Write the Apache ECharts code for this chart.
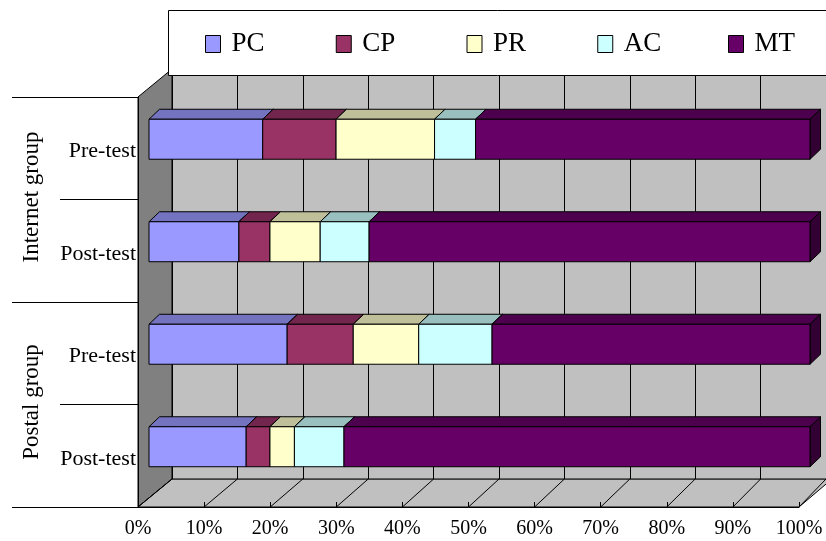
<!DOCTYPE html>
<html>
<head>
<meta charset="utf-8">
<script src="https://cdn.jsdelivr.net/npm/echarts@6/dist/echarts.min.js"></script>
<style>
  html, body { margin: 0; padding: 0; background: #fff; }
  #chart { width: 826px; height: 541px; }
</style>
</head>
<body>
<div id="chart"></div>
<script>
// ---- data ----
const categories = ['Pre-test', 'Post-test', 'Pre-test', 'Post-test'];
const groups = ['Internet group', 'Postal group'];
const seriesNames = ['PC', 'CP', 'PR', 'AC', 'MT'];
const PC = [17.2, 13.6, 20.9, 14.7];
const CP = [11.1, 4.7, 10.0, 3.6];
const PR = [14.9, 7.6, 9.9, 3.7];
const AC = [6.2, 7.4, 11.1, 7.5];
const MT = [50.6, 66.7, 48.1, 70.5];
const tickLabels = ['0%', '10%', '20%', '30%', '40%', '50%', '60%', '70%', '80%', '90%', '100%'];

// ---- styling ----
const FONT = '"Liberation Serif", "Times New Roman", serif';
const frontColors = ['#9999FF', '#993366', '#FFFFCC', '#CCFFFF', '#660066'];
const topColors   = ['#7373BF', '#73264D', '#BFBF99', '#99BFBF', '#4D004D'];
const sideColors  = ['#4C4C80', '#4D1933', '#808066', '#668080', '#330033'];

// front plane of the 3D box and the depth shift to the back wall
const W = 826, H = 541;
const FRONT = { x0: 138, x1: 799, y0: 97, y1: 507 };
const DEPTH = { dx: 34, dy: -28 };
const BACK = { x0: FRONT.x0 + DEPTH.dx, x1: 832, y0: FRONT.y0 + DEPTH.dy, y1: FRONT.y1 + DEPTH.dy };
// bars sit in the middle third of the depth
const BAR_OFF = { dx: 11, dy: -9 };
const BAR_DEPTH = { dx: 10.5, dy: -10 };
const BAR_RATIO = 0.39;

const valueLists = [PC, CP, PR, AC, MT];

function renderBar(si) {
  return function (params, api) {
    const s = api.value(0), e = api.value(1), c = api.value(2);
    const a = api.coord([s, c]);
    const b = api.coord([e, c]);
    const band = api.size([0, 1])[1];
    const h = band * BAR_RATIO;
    const x0 = a[0] + BAR_OFF.dx, x1 = b[0] + BAR_OFF.dx;
    const y0 = a[1] - h / 2 + BAR_OFF.dy, y1 = y0 + h;
    const dx = BAR_DEPTH.dx, dy = BAR_DEPTH.dy;
    const edge = { stroke: '#000', lineWidth: 1, lineJoin: 'round' };
    return {
      type: 'group',
      children: [
        { type: 'polygon', shape: { points: [[x0, y0], [x1, y0], [x1 + dx, y0 + dy], [x0 + dx, y0 + dy]] },
          style: Object.assign({ fill: topColors[si] }, edge) },
        { type: 'polygon', shape: { points: [[x1, y0], [x1 + dx, y0 + dy], [x1 + dx, y1 + dy], [x1, y1]] },
          style: Object.assign({ fill: sideColors[si] }, edge) },
        { type: 'rect', shape: { x: x0, y: y0, width: x1 - x0, height: h },
          style: Object.assign({ fill: frontColors[si] }, edge) }
      ]
    };
  };
}

// stacked extents for each segment
const cum = categories.map(() => 0);
const series = seriesNames.map((name, si) => {
  const data = categories.map((_, c) => {
    const start = cum[c];
    cum[c] += valueLists[si][c];
    return [start, cum[c], c];
  });
  return {
    type: 'custom',
    name: name,
    xAxisIndex: 0,
    yAxisIndex: 0,
    z: 3,
    renderItem: renderBar(si),
    encode: { x: [0, 1], y: 2 },
    itemStyle: { color: frontColors[si] },
    data: data
  };
});

const LEGEND_X0 = 205, LEGEND_STEP = 130.75;
const legends = seriesNames.map((name, i) => ({
  data: [name],
  left: LEGEND_X0 + i * LEGEND_STEP,
  top: 29,
  padding: 0,
  z: 11,
  icon: 'rect',
  itemWidth: 15,
  itemHeight: 17,
  selectedMode: false,
  itemStyle: { borderColor: '#000', borderWidth: 1 },
  textStyle: { fontFamily: FONT, fontSize: 27, color: '#000', lineHeight: 30, padding: [0, 0, 0, 6] }
}));

const chart = echarts.init(document.getElementById('chart'), null, { renderer: 'canvas' });

chart.setOption({
  animation: false,
  backgroundColor: '#fff',
  grid: [
    { left: FRONT.x0, right: W - FRONT.x1, top: FRONT.y0, bottom: H - FRONT.y1 },
    { left: BACK.x0, right: W - BACK.x1, top: BACK.y0, bottom: H - BACK.y1 }
  ],
  legend: legends,
  xAxis: [
    {
      type: 'value', gridIndex: 0, min: 0, max: 100, interval: 10, z: 5,
      axisLine: { show: true, lineStyle: { color: '#000', width: 1 } },
      axisTick: { show: true, inside: true, length: 5, lineStyle: { color: '#000' } },
      splitLine: { show: false },
      axisLabel: {
        margin: 12, color: '#000', fontFamily: FONT, fontSize: 20,
        formatter: v => tickLabels[Math.round(v / 10)]
      }
    },
    {
      type: 'value', gridIndex: 1, min: 0, max: 100, interval: 10, z: 1,
      axisLine: { show: true, lineStyle: { color: '#404040', width: 1 } },
      axisTick: { show: false },
      axisLabel: { show: false },
      splitLine: { show: true, lineStyle: { color: '#000', width: 1 } }
    }
  ],
  yAxis: [
    {
      type: 'category', gridIndex: 0, data: categories, inverse: true, z: 5,
      axisLine: { show: true, lineStyle: { color: '#000', width: 1 } },
      axisTick: { show: true, length: 78, alignWithLabel: false, lineStyle: { color: '#000' } },
      axisLabel: { margin: 2, color: '#000', fontFamily: FONT, fontSize: 22,
                   verticalAlign: 'top', lineHeight: 6 },
      splitLine: { show: false }
    },
    {
      type: 'category', gridIndex: 0, data: groups, inverse: true, position: 'left', offset: 0, z: 5,
      axisLine: { show: false },
      axisTick: { show: true, length: 126, alignWithLabel: false, lineStyle: { color: '#000' } },
      axisLabel: { margin: 95, rotate: 90, color: '#000', fontFamily: FONT, fontSize: 23, padding: [0, 0, 0, 5] },
      splitLine: { show: false }
    },
    {
      type: 'value', gridIndex: 1, show: false, min: 0, max: 1
    }
  ],
  series: series
});

// walls, floor and the legend frame, placed with the two value axes
const floorLines = tickLabels.map((_, i) => {
  const v = i * 10;
  const xf = chart.convertToPixel({ xAxisIndex: 0 }, v);
  const xb = chart.convertToPixel({ xAxisIndex: 1 }, v);
  return {
    type: 'line', z: 2, silent: true,
    shape: { x1: xb, y1: BACK.y1, x2: xf, y2: FRONT.y1 },
    style: { stroke: '#000', lineWidth: 1 }
  };
});

chart.setOption({
  graphic: [
    { type: 'rect', z: 0, silent: true,
      shape: { x: BACK.x0, y: BACK.y0, width: BACK.x1 - BACK.x0, height: BACK.y1 - BACK.y0 },
      style: { fill: '#C0C0C0' } },
    { type: 'polygon', z: 1, silent: true,
      shape: { points: [[FRONT.x0, FRONT.y0], [BACK.x0, BACK.y0], [BACK.x0, BACK.y1], [FRONT.x0, FRONT.y1]] },
      style: { fill: '#808080', stroke: '#000', lineWidth: 1 } },
    { type: 'polygon', z: 1, silent: true,
      shape: { points: [[FRONT.x0, FRONT.y1], [FRONT.x1, FRONT.y1], [BACK.x1, BACK.y1], [BACK.x0, BACK.y1]] },
      style: { fill: '#C0C0C0', stroke: '#000', lineWidth: 1 } }
  ].concat(floorLines).concat([
    { type: 'rect', z: 10, silent: true,
      shape: { x: 168.5, y: 10.5, width: 700, height: 65 },
      style: { fill: '#fff', stroke: '#000', lineWidth: 1 } }
  ])
});
</script>
</body>
</html>
